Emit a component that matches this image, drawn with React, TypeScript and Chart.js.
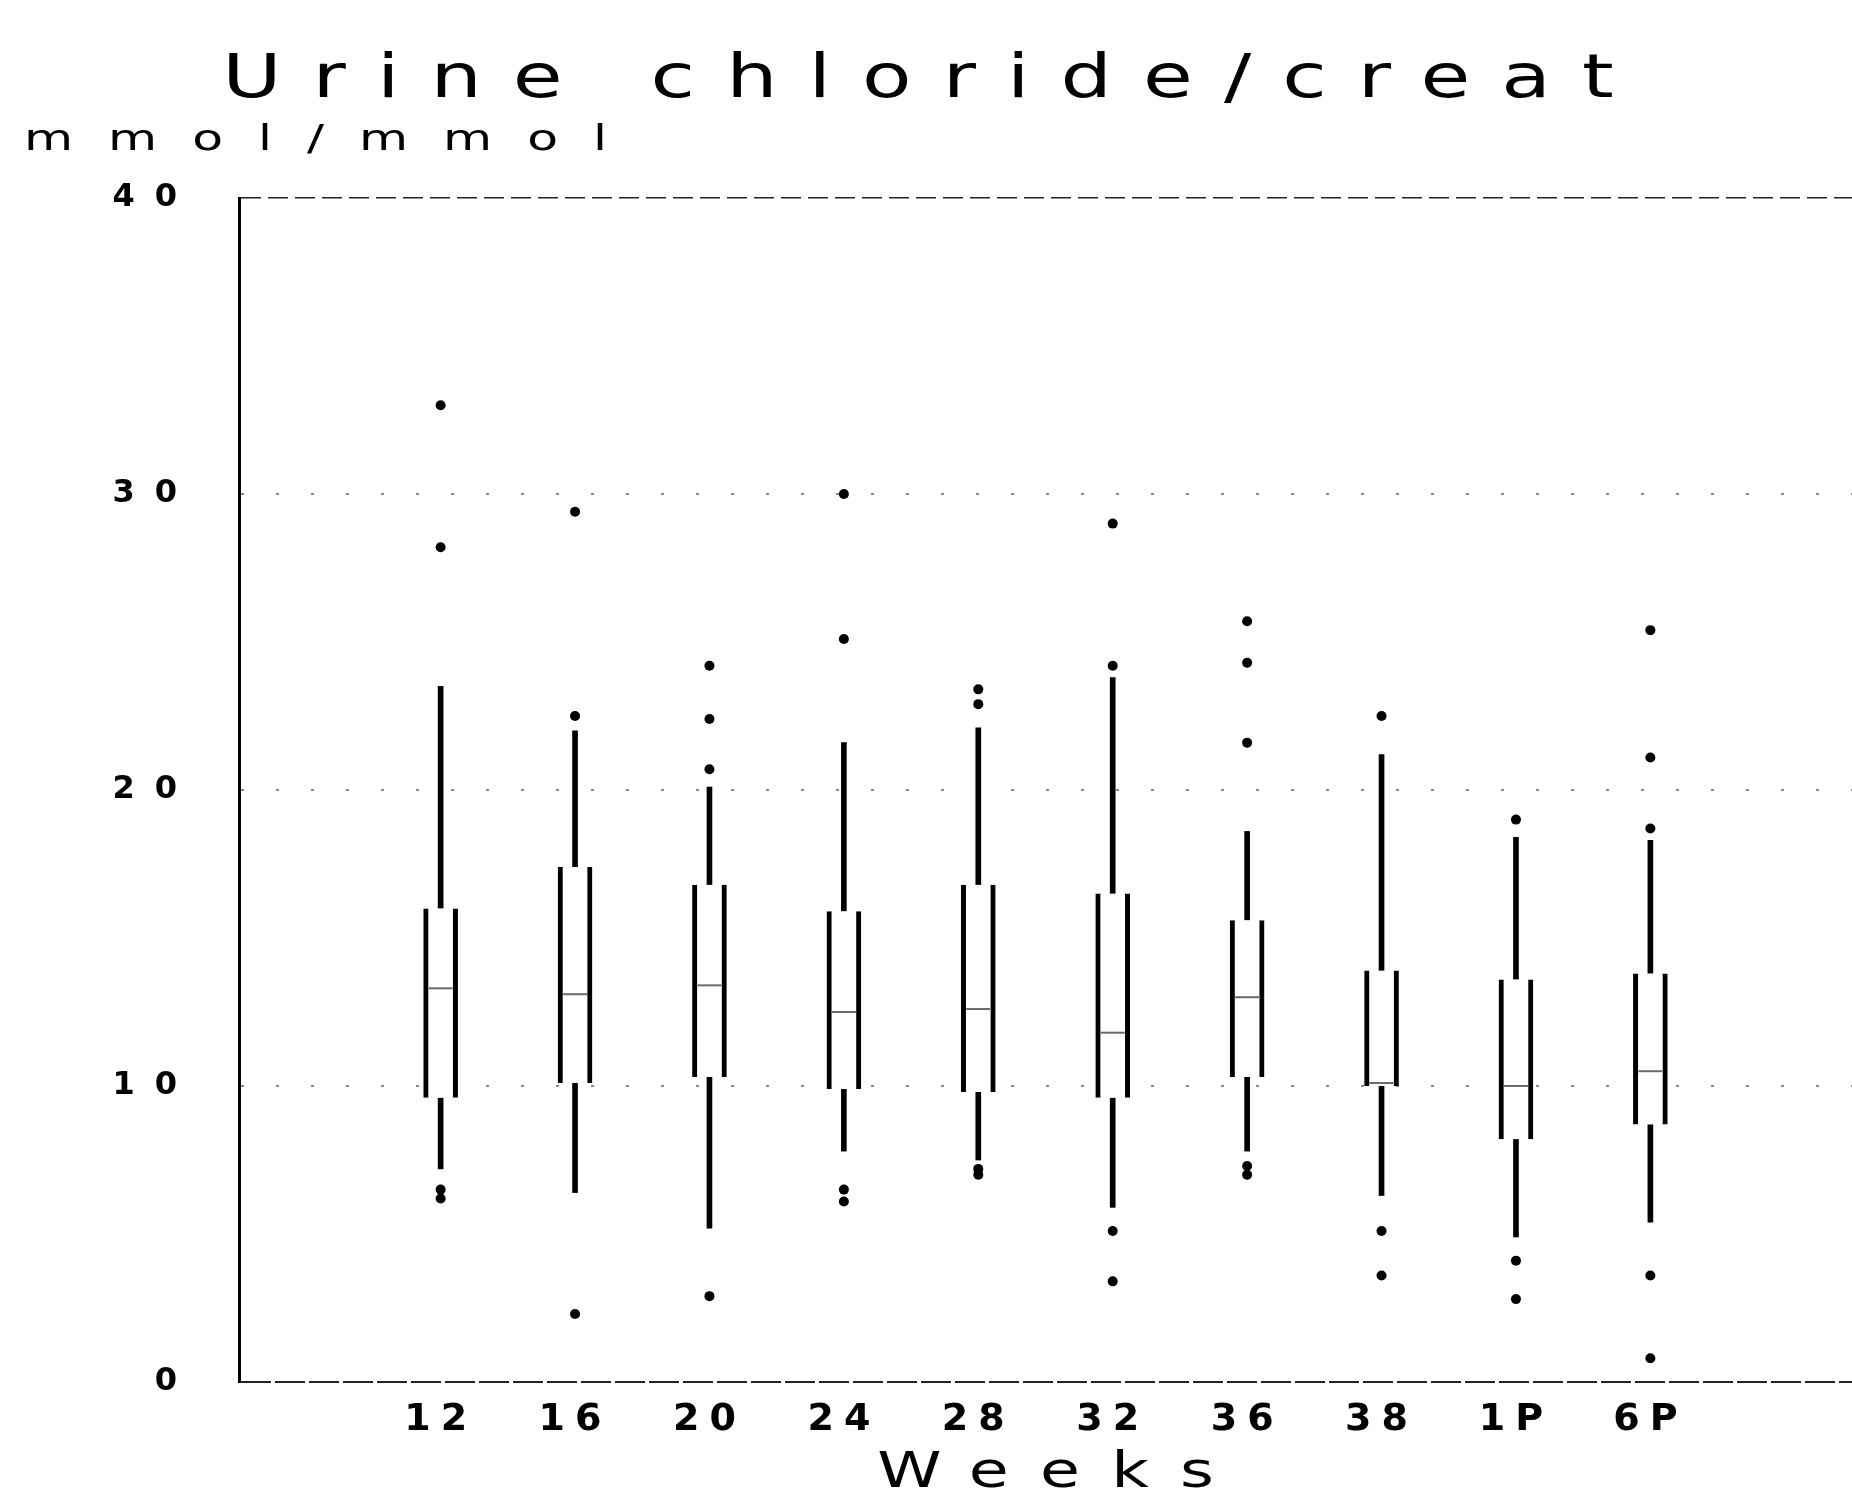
import React, { useEffect, useRef } from 'react';
import { Chart, registerables } from 'chart.js';

Chart.register(...registerables);

// ---- data ----
const chartTitle = 'Urine chloride/creat';
const unitLabel = 'mmol/mmol';
const xTitle = 'Weeks';
const weeks = ['12', '16', '20', '24', '28', '32', '36', '38', '1P', '6P'];
const yTickValues = [0, 10, 20, 30, 40];

const whiskerLow = [7.2, 6.4, 5.2, 7.8, 7.5, 5.9, 7.8, 6.3, 4.9, 5.4];
const q1 = [9.6, 10.1, 10.3, 9.9, 9.8, 9.6, 10.3, 10.0, 8.2, 8.7];
const median = [13.3, 13.1, 13.4, 12.5, 12.6, 11.8, 13.0, 10.1, 10.0, 10.5];
const q3 = [16.0, 17.4, 16.8, 15.9, 16.8, 16.5, 15.6, 13.9, 13.6, 13.8];
const whiskerHigh = [23.5, 22.0, 20.1, 21.6, 22.1, 23.8, 18.6, 21.2, 18.4, 18.3];

const outliers12 = [33.0, 28.2, 6.5, 6.2];
const outliers16 = [29.4, 22.5, 2.3];
const outliers20 = [24.2, 22.4, 20.7, 2.9];
const outliers24 = [30.0, 25.1, 6.5, 6.1];
const outliers28 = [23.4, 22.9, 7.2, 7.0];
const outliers32 = [29.0, 24.2, 5.1, 3.4];
const outliers36 = [25.7, 24.3, 21.6, 7.3, 7.0];
const outliers38 = [22.5, 5.1, 3.6];
const outliers1P = [19.0, 4.1, 2.8];
const outliers6P = [25.4, 21.1, 18.7, 3.6, 0.8];
const outliers = [
  outliers12, outliers16, outliers20, outliers24, outliers28,
  outliers32, outliers36, outliers38, outliers1P, outliers6P,
];

const FONT = '"DejaVu Sans", sans-serif';

// draws widened, letter-spaced text; align 'left' or 'center' on the visible glyph run
function drawWideText(
  ctx: CanvasRenderingContext2D,
  text: string,
  x: number,
  y: number,
  font: string,
  sx: number,
  spacing: number,
  align: 'left' | 'center',
) {
  ctx.save();
  ctx.font = font;
  (ctx as any).letterSpacing = `${spacing}px`;
  ctx.textAlign = 'left';
  ctx.textBaseline = 'alphabetic';
  const w = ctx.measureText(text).width - spacing; // visible run width (unscaled)
  const start = align === 'center' ? x - (w * sx) / 2 : x;
  ctx.translate(start, y);
  ctx.scale(sx, 1);
  ctx.fillText(text, 0, 0);
  ctx.restore();
}

export default function App() {
  const ref = useRef<HTMLCanvasElement | null>(null);

  useEffect(() => {
    const canvas = ref.current;
    if (!canvas) return;
    const idx = weeks.map((_, i) => i);
    const boxData = idx.map((i) => ({ x: i, y: [q1[i], q3[i]] }));
    const lowWhisker = idx.map((i) => ({ x: i, y: [whiskerLow[i], q1[i]] }));
    const highWhisker = idx.map((i) => ({ x: i, y: [q3[i], whiskerHigh[i]] }));
    const medianPts = idx.map((i) => ({ x: i, y: median[i] }));
    const outlierPts = outliers.flatMap((vals, i) => vals.map((v) => ({ x: i, y: v })));

    const textPlugin = {
      id: 'textPlugin',
      beforeUpdate(chart: any) {
        chart.ctx.letterSpacing = '10px';
      },
      beforeDraw(chart: any) {
        chart.ctx.letterSpacing = '10px'; // x tick labels
      },
      afterDatasetsDraw(chart: any) {
        chart.ctx.letterSpacing = '20px'; // y tick labels (drawn after datasets, z=1)
      },
      afterDraw(chart: any) {
        const ctx = chart.ctx as CanvasRenderingContext2D;
        const area = chart.chartArea;
        ctx.fillStyle = '#000';
        drawWideText(ctx, chartTitle, 918, 97, `60px ${FONT}`, 1.35, 23, 'center');
        drawWideText(ctx, unitLabel, 24, 150, `36px ${FONT}`, 1.4, 25, 'left');
        drawWideText(ctx, xTitle, (area.left + area.right) / 2, 1487, `50px ${FONT}`, 1.3, 24, 'center');
        (ctx as any).letterSpacing = '0px';
      },
    };

    const chart = new Chart(canvas, {
      type: 'scatter',
      data: {
        datasets: [
          {
            type: 'scatter',
            label: 'median',
            data: medianPts,
            pointStyle: 'line',
            pointRadius: 12,
            borderWidth: 2,
            borderColor: '#6a6a6a',
            backgroundColor: '#6a6a6a',
          },
          {
            type: 'scatter',
            label: 'outliers',
            data: outlierPts,
            pointStyle: 'circle',
            pointRadius: 5,
            borderWidth: 0,
            backgroundColor: '#000',
            borderColor: '#000',
          },
          {
            type: 'bar',
            label: 'box',
            data: boxData as any,
            barThickness: 34,
            grouped: false,
            backgroundColor: '#fff',
            borderColor: '#000',
            borderWidth: { left: 5, right: 5, top: 0, bottom: 0 },
            borderSkipped: false,
          },
          {
            type: 'bar',
            label: 'low whisker',
            data: lowWhisker as any,
            barThickness: 5,
            grouped: false,
            backgroundColor: '#000',
            borderWidth: 0,
          },
          {
            type: 'bar',
            label: 'high whisker',
            data: highWhisker as any,
            barThickness: 5,
            grouped: false,
            backgroundColor: '#000',
            borderWidth: 0,
          },
        ] as any,
      },
      options: {
        responsive: false,
        devicePixelRatio: 1,
        animation: false,
        events: [],
        layout: { autoPadding: false, padding: { top: 198, left: 0, right: 0, bottom: 0 } },
        plugins: {
          legend: { display: false },
          tooltip: { enabled: false },
          title: { display: false },
        },
        scales: {
          x: {
            type: 'linear',
            offset: false,
            min: -1.5,
            max: 10.5,
            afterBuildTicks: (scale: any) => {
              scale.ticks = weeks.map((_, i) => ({ value: i }));
            },
            afterFit: (scale: any) => {
              scale.height = 121;
            },
            grid: { display: false, drawTicks: false },
            border: { display: false },
            ticks: {
              autoSkip: false,
              maxRotation: 0,
              padding: 15,
              color: '#000',
              font: { family: FONT, size: 38, weight: 'bold' },
              callback: (v: any) => weeks[Math.round(Number(v))] ?? '',
            },
          },
          y: {
            type: 'linear',
            min: 0,
            max: 40,
            afterBuildTicks: (scale: any) => {
              scale.ticks = yTickValues.map((v) => ({ value: v }));
            },
            afterFit: (scale: any) => {
              scale.width = 239;
            },
            grid: {
              display: true,
              drawTicks: false,
              color: (c: any) => (c.tick && (c.tick.value === 0 || c.tick.value === 40) ? '#222' : '#8a8a8a'),
              lineWidth: (c: any) => (c.tick && c.tick.value === 40 ? 1.5 : 2),
            },
            border: {
              display: true,
              color: '#000',
              width: 3,
              dash: (c: any) => {
                if (!c.tick) return [];
                if (c.tick.value === 0) return [30, 4];
                if (c.tick.value === 40) return [20, 7];
                return [3, 32];
              },
            },
            ticks: {
              z: 1,
              padding: 42,
              color: '#000',
              font: { family: FONT, size: 32, weight: 'bold' },
            },
          },
        },
      } as any,
      plugins: [textPlugin],
    });
    return () => chart.destroy();
  }, []);

  return (
    <div style={{ position: 'fixed', left: 0, top: 0, width: 1852, height: 1503, background: '#fff' }}>
      <canvas ref={ref} width={1852} height={1503} style={{ display: 'block', width: 1852, height: 1503 }} />
    </div>
  );
}
